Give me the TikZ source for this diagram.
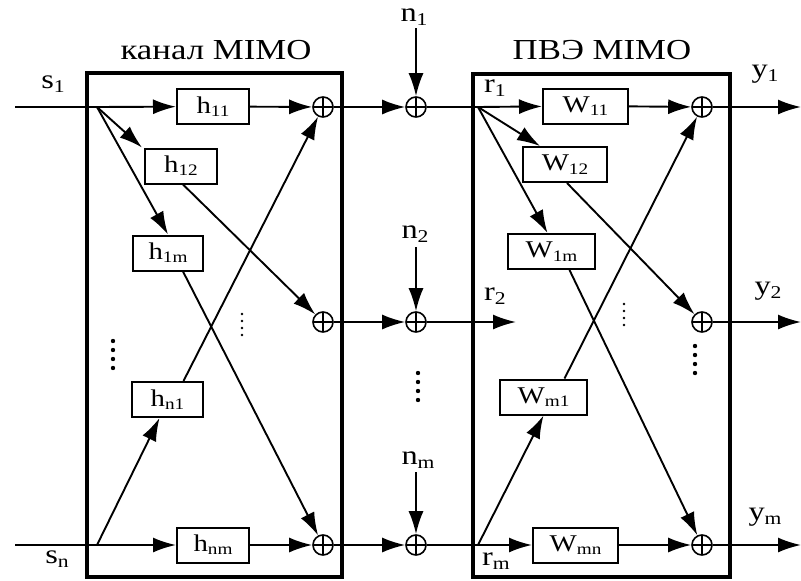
\documentclass[tikz,border=0pt]{standalone}
\usepackage{fontspec}
\setmainfont{Liberation Serif}[FakeStretch=1.2]
\usetikzlibrary{arrows.meta,calc}
\newcommand\lo[2][16]{\raisebox{-0.3ex}{\fontsize{#1}{#1}\selectfont #2}}
\begin{document}
\begin{tikzpicture}[x=1pt,y=-1pt,
  blk/.style={draw,line width=2pt,minimum width=#1,minimum height=35pt,inner sep=0pt,
     font=\fontsize{24}{24}\selectfont},
  blk/.default=72pt,
  sum/.style={circle,draw,line width=1.6pt,minimum size=20pt,inner sep=0pt,
     path picture={\draw[line width=1.5pt] (path picture bounding box.north) -- (path picture bounding box.south)
        (path picture bounding box.west) -- (path picture bounding box.east);}},
  lbl/.style={inner sep=0pt,font=\fontsize{27}{27}\selectfont},
  ttl/.style={inner sep=0pt,font=\fontsize{29}{29}\selectfont},
  ln/.style={line width=1.9pt},
  arr/.style={ln,-{Latex[length=23pt,width=15pt]}},
  frame/.style={line width=4pt}]
\fill[white] (0,0) rectangle (801,581);
\useasboundingbox (0,0) rectangle (801,581);

% outer frames
\draw[frame] (87,73) rectangle (342,577);
\draw[frame] (473,74) rectangle (730,577);
\node[ttl] (t1) at (216,50) {канал MIMO};
\node[ttl] (t2) at (602,50) {ПВЭ MIMO};

% channel blocks
\node[blk] (h11) at (213,106.5) {h\lo{11}};
\node[blk] (h12) at (181,166) {h\lo{12}};
\node[blk=70pt] (h1m) at (168,253) {h\lo{1m}};
\node[blk=71pt] (hn1) at (167.5,399.5) {h\lo{n1}};
\node[blk] (hnm) at (213,545) {h\lo{nm}};

% equalizer blocks
\node[blk=85pt] (w11) at (585.5,106) {W\lo{11}};
\node[blk=84pt] (w12) at (565,164.5) {W\lo{12}};
\node[blk=87pt] (w1m) at (551.5,251.5) {W\lo{1m}};
\node[blk=87pt] (wm1) at (543.5,397) {W\lo{m1}};
\node[blk=85pt] (wmm) at (575.5,545) {W\lo{mn}};

% summers
\node[sum] (S1) at (323,107) {};
\node[sum] (S2) at (323,322) {};
\node[sum] (S3) at (323,545) {};
\node[sum] (M1) at (416,107) {};
\node[sum] (M2) at (416,322) {};
\node[sum] (M3) at (416,545) {};
\node[sum] (R1) at (702,107) {};
\node[sum] (R2) at (702,322) {};
\node[sum] (R3) at (702,545) {};

% coordinates
\coordinate (in1) at (15,107);
\coordinate (inn) at (15,545);
\coordinate (sp1) at (97,107);
\coordinate (spn) at (97,545);
\coordinate (rsp1) at (478,107);
\coordinate (rspm) at (478,545);
\coordinate (r2end) at (516,322);
\coordinate (o1) at (801,107);
\coordinate (o2) at (801,322);
\coordinate (o3) at (801,545);

% labels
\node[lbl] (s1) at (53,84) {s\lo[18]{1}};
\node[lbl] (sn) at (57,559) {s\lo[18]{n}};
\node[lbl] (n1) at (414,17) {n\lo[18]{1}};
\node[lbl] (n2) at (415,234) {n\lo[18]{2}};
\node[lbl] (nm) at (418,460) {n\lo[18]{m}};
\node[lbl] (r1) at (495,88) {r\lo[18]{1}};
\node[lbl] (r2) at (495,296) {r\lo[18]{2}};
\node[lbl] (rm) at (496,561) {r\lo[18]{m}};
\node[lbl] (y1) at (765,74) {y\lo[18]{1}};
\node[lbl] (y2) at (768,291) {y\lo[18]{2}};
\node[lbl] (ym) at (765,517) {y\lo[18]{m}};

% channel connections
\draw[ln] (in1) -- (sp1);
\draw[ln] (inn) -- (spn);
\draw[arr] (sp1) -- (h11);
\draw[arr] (sp1) -- ([xshift=-2pt]h12.north west);
\draw[arr] (sp1) -- (h1m.north);
\draw[arr] (h11) -- (S1);
\draw[arr] ([xshift=2pt]h12.south) -- (S2);
\draw[arr] ([xshift=15pt]h1m.south) -- (S3);
\draw[arr] ([xshift=16pt]hn1.north) -- (S1);
\draw[arr] (spn) -- ([xshift=-8pt]hn1.south);
\draw[arr] (spn) -- (hnm);
\draw[arr] (hnm) -- (S3);

% noise
\draw[arr] (S1) -- (M1);
\draw[arr] (S2) -- (M2);
\draw[arr] (S3) -- (M3);
\draw[arr] (n1.south -| M1) ++(0,3) -- (M1);
\draw[arr] (n2.south -| M2) ++(0,5) -- (M2);
\draw[arr] (nm.south -| M3) ++(0,4) -- (M3);
\draw[ln] (M1) -- (rsp1);
\draw[arr] (M2) -- (r2end);
\draw[ln] (M3) -- (rspm);

% equalizer connections
\draw[arr] (rsp1) -- (w11);
\draw[arr] (rsp1) -- ([xshift=-25pt]w12.north);
\draw[arr] (rsp1) -- ([xshift=-4pt]w1m.north);
\draw[arr] (w11) -- (R1);
\draw[arr] ([xshift=2pt]w12.south) -- (R2);
\draw[arr] ([xshift=18pt]w1m.south) -- (R3);
\draw[arr] ([xshift=21pt]wm1.north) -- (R1);
\draw[arr] (rspm) -- (wm1.south);
\draw[arr] (rspm) -- (wmm);
\draw[arr] (wmm) -- (R3);
\draw[arr] (R1) -- (o1);
\draw[arr] (R2) -- (o2);
\draw[arr] (R3) -- (o3);

% dots
\foreach \x/\y/\r/\d in {113/341/2.2/9, 418/373/2.2/9, 695/346/2.2/9, 242/314/1.4/7, 624/304/1.4/7}{
  \foreach \k in {0,1,2,3}{\fill (\x,\y+\k*\d) circle (\r);}
}
\end{tikzpicture}
\end{document}
